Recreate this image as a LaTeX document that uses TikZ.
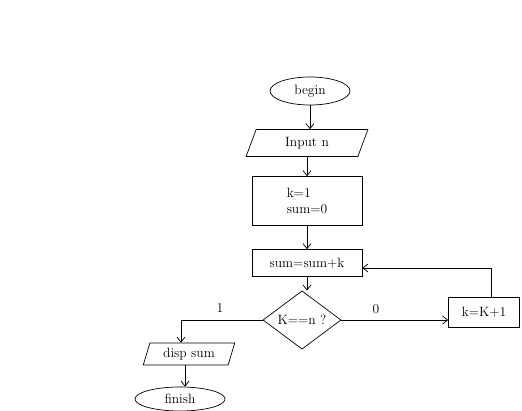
\documentclass[tikz,border=0pt]{standalone}
\usetikzlibrary{shapes.geometric,arrows.meta}
\begin{document}
\begin{tikzpicture}[x=1pt,y=-1pt,
  every node/.style={font=\fontsize{13.5}{16}\selectfont, inner sep=0pt},
  oval/.style={draw, ellipse, line width=0.7pt},
  io/.style={draw, trapezium, trapezium left angle=70, trapezium right angle=110, trapezium stretches=true, line width=0.7pt},
  box/.style={draw, rectangle, line width=0.7pt},
  dec/.style={draw, diamond, line width=0.7pt},
  flow/.style={draw, line width=0.7pt, -{Straight Barb[length=5pt,width=8pt]}},
  plain/.style={draw, line width=0.7pt}]
\useasboundingbox (0,0) rectangle (522,411);
\node[oval, minimum width=80, minimum height=28] (begin) at (310,91) {begin};
\node[io, minimum width=122, minimum height=27] (input) at (307,143) {Input n};
\node[box, minimum width=110, minimum height=49, align=left] (init) at (307,201) {k=1\\ sum=0};
\node[box, minimum width=110, minimum height=27] (sum) at (307,263) {sum=sum+k};
\node[dec, minimum width=78, minimum height=53] (cond) at (302,320) {K==n ?};
\node[box, minimum width=71, minimum height=30] (inc) at (484,312) {k=K+1};
\node[io, minimum width=92, minimum height=22] (disp) at (189,354) {disp sum};
\node[oval, minimum width=90, minimum height=24] (fin) at (180,399) {finish};
\coordinate (lc) at (181,320);
\coordinate (up) at (491,268);
\node (one) at (220,308) {1};
\node (zero) at (376,309) {0};
\draw[flow] (begin.south) -- (input.north -| begin.south);
\draw[flow] (input.south) -- (init.north -| input.south);
\draw[flow] (init.south) -- (sum.north);
\draw[flow] (sum.south) -- (cond.north -| sum.south);
\draw[plain] (cond.west) -- (lc);
\draw[flow] (lc) -- (disp.north -| lc);
\draw[flow] (cond.east) -- (inc.west |- cond.east);
\draw[plain] (inc.north -| up) -- (up);
\draw[flow] (up) -- (sum.east |- up);
\draw[flow] (disp.south -| fin.north) ++(5,0) coordinate (ds) -- (fin.north -| ds);
\end{tikzpicture}
\end{document}
